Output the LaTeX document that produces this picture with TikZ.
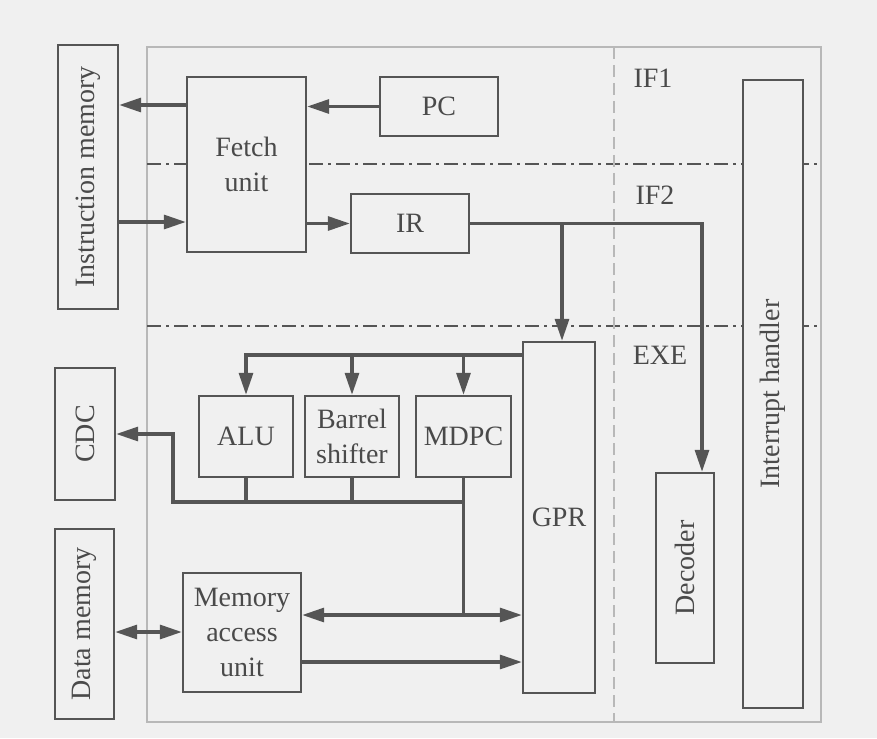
\documentclass[tikz,border=0pt]{standalone}
\usepackage{fontspec}
\setmainfont{Liberation Serif}
\usetikzlibrary{arrows.meta}
\definecolor{bg}{HTML}{F0F0F0}
\definecolor{ln}{HTML}{555555}
\definecolor{txt}{HTML}{4A4A4A}
\definecolor{frm}{HTML}{B8B8B8}
\tikzset{
  box/.style={draw=ln, line width=2.4pt, fill=bg, rectangle, inner sep=0pt, align=center, text=txt},
  lbl/.style={text=txt, inner sep=0pt, align=center},
  conn/.style={draw=ln, line width=3.2pt},
  arr/.style={conn, -{Triangle[length=22pt,width=14pt]}},
  darr/.style={conn, {Triangle[length=22pt,width=14pt]}-{Triangle[length=22pt,width=14pt]}},
  stage/.style={draw=ln, line width=2pt, dash pattern=on 14pt off 5pt on 3pt off 5pt},
  vdash/.style={draw=frm, line width=2pt, dash pattern=on 12pt off 6pt},
}
\begin{document}
\begin{tikzpicture}[x=1pt,y=-1pt, font=\fontsize{28}{35}\selectfont]
\fill[bg] (0,0) rectangle (877,738);
\useasboundingbox (0,0) rectangle (877,738);
% frame
\draw[frm, line width=1.6pt] (147,47) rectangle (821,722);
% stage lines
\draw[stage] (147,164) -- (821,164);
\draw[stage] (147,326) -- (821,326);
\draw[vdash] (614,47) -- (614,722);
% helper coordinates
\coordinate (r1) at (0,105);
\coordinate (r2) at (0,222);
\coordinate (busA) at (0,355);
\coordinate (busB) at (0,502);
\coordinate (busC) at (0,615);
\coordinate (busD) at (0,662);
\coordinate (busE) at (0,632);
\coordinate (xdec) at (702,0);
\coordinate (xgpr) at (562,0);
\coordinate (xcdc) at (173,0);
% boxes
\node[box, minimum width=60pt, minimum height=264pt] (im) at (88,177) {};
\node[lbl, rotate=90] (imt) at (im.center) {Instruction memory};
\node[box, minimum width=119pt, minimum height=175pt] (fetch) at (246.5,164.5) {Fetch\\unit};
\node[box, minimum width=118pt, minimum height=59pt] (pc) at (439,106.5) {PC};
\node[box, minimum width=118pt, minimum height=59pt] (ir) at (410,223.5) {IR};
\node[box, minimum width=60pt, minimum height=628pt] (ih) at (773,394) {};
\node[lbl, rotate=90] (iht) at (ih.center) {Interrupt handler};
\node[box, minimum width=72pt, minimum height=351pt] (gpr) at (559,517.5) {GPR};
\node[box, minimum width=58pt, minimum height=190pt] (dec) at (685,568) {};
\node[lbl, rotate=90] (dect) at (dec.center) {Decoder};
\node[box, minimum width=94pt, minimum height=81pt] (alu) at (246,436.5) {ALU};
\node[box, minimum width=94pt, minimum height=81pt] (bs) at (352,436.5) {Barrel\\shifter};
\node[box, minimum width=95pt, minimum height=81pt] (mdpc) at (463.5,436.5) {MDPC};
\node[box, minimum width=118pt, minimum height=119pt] (mau) at (242,632.5) {Memory\\access\\unit};
\node[box, minimum width=59pt, minimum height=190pt] (dm) at (84.5,624) {};
\node[lbl, rotate=90] (dmt) at (dm.center) {Data memory};
\node[box, minimum width=60pt, minimum height=132pt] (cdc) at (85,434) {};
\node[lbl, rotate=90] (cdct) at (cdc.center) {CDC};
% stage labels
\node[lbl] (if1) at (653,78) {IF1};
\node[lbl] (if2) at (655,195) {IF2};
\node[lbl] (exe) at (660,355) {EXE};
% connectors
\draw[arr] (fetch.west |- r1) -- (im.east |- r1);
\draw[arr] (pc.west) -- (pc.west -| fetch.east);
\draw[arr] (im.east |- r2) -- (fetch.west |- r2);
\draw[arr] (fetch.east |- ir) -- (ir.west);
\draw[arr] (ir.east) -| (dec.north -| xdec);
\draw[arr] (ir.east -| xgpr) -- (gpr.north -| xgpr);
\draw[arr] (gpr.west |- busA) -| (alu.north);
\draw[arr] (bs.north |- busA) -- (bs.north);
\draw[arr] (mdpc.north |- busA) -- (mdpc.north);
\draw[conn] (alu.south) -- (alu.south |- busB);
\draw[conn] (bs.south) -- (bs.south |- busB);
\draw[conn] (mdpc.south) -- (mdpc.south |- busC);
\draw[arr] (mdpc.south |- busB) -- (xcdc |- busB) |- (cdc.east);
\draw[arr] (mdpc.south |- busC) -- (mau.east |- busC);
\draw[arr] (mdpc.south |- busC) -- (gpr.west |- busC);
\draw[arr] (mau.east |- busD) -- (gpr.west |- busD);
\draw[darr] (dm.east |- busE) -- (mau.west |- busE);
\end{tikzpicture}
\end{document}
